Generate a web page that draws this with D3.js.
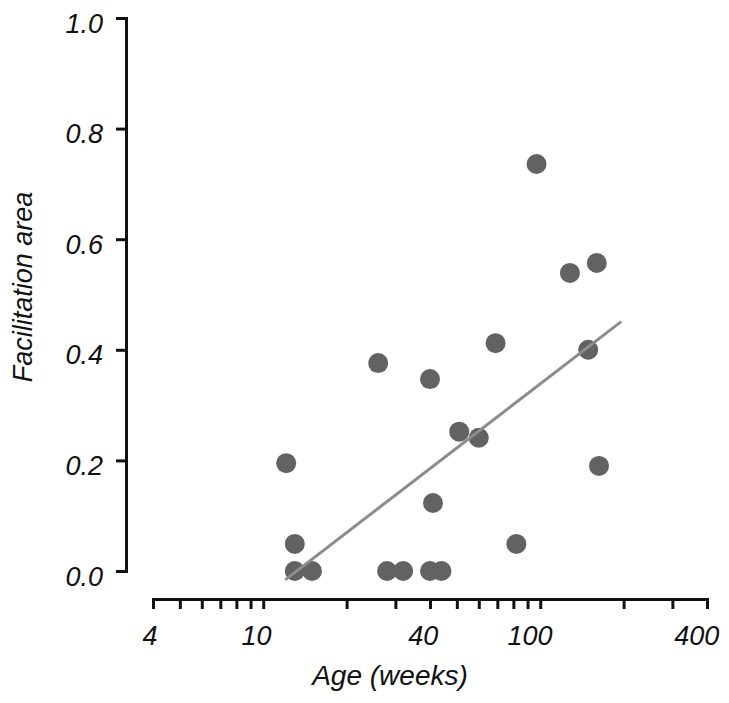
<!DOCTYPE html>
<html lang="en">

<head>
  <meta charset="UTF-8">
  <title></title>
  <script src="https://d3js.org/d3.v7.min.js"></script>
  <style>
      body {
          margin: 0;
          background: #fff;
      }

      text {
          font-family: "Liberation Sans", Arial, sans-serif;
          font-style: italic;
          fill: #111;
      }

      .axis path,
      .axis line {
          stroke: #111;
          stroke-width: 3px;
      }
  </style>
</head>

<body>
<div class="canvas"></div>
<script>
  // age (weeks) and facilitation area
  const ages = [12.1, 13, 13, 15, 26, 28, 32, 40, 40, 41, 44, 51, 60, 69, 82, 97, 128, 160, 149, 163];
  const areas = [0.195, 0.049, 0, 0, 0.376, 0, 0, 0.347, 0, 0.123, 0, 0.252, 0.241, 0.412, 0.049, 0.736, 0.539, 0.557, 0.400, 0.190];

  // regression line end points
  const fitAges = [12, 196];
  const fitAreas = [-0.016, 0.451];

  const xTicks = [4, 5, 6, 7, 8, 9, 10, 20, 30, 40, 50, 60, 70, 80, 90, 100, 200, 300, 400];
  const xLabels = [4, 10, 40, 100, 400];
  const yTicks = [0, 0.2, 0.4, 0.6, 0.8, 1.0];

  const svg = d3.select('.canvas')
    .append('svg')
    .attr('width', 729)
    .attr('height', 703)

  const x = d3.scaleLog().domain([4, 400]).range([153, 707])
  const y = d3.scaleLinear().domain([0, 1]).range([571, 18])

  // y axis
  const yAxis = svg.append('g')
    .attr('class', 'axis')
    .attr('transform', 'translate(126,0)')
    .call(d3.axisLeft(y).tickValues(yTicks).tickSize(10).tickSizeOuter(0).tickPadding(13)
      .tickFormat(d3.format('.1f')))
  yAxis.selectAll('text')
    .attr('dy', '0.52em')
    .style('font-size', '27px')

  // x axis (log)
  const xAxis = svg.append('g')
    .attr('class', 'axis')
    .attr('transform', 'translate(0,599)')
    .call(d3.axisBottom(x).tickValues(xTicks).tickSize(10).tickSizeOuter(0).tickPadding(17)
      .tickFormat(d => xLabels.includes(d) ? d : ''))
  xAxis.selectAll('text')
    .attr('dx', d => -String(d).length * 3.6)
    .style('font-size', '27px')

  svg.selectAll('.axis .domain').attr('stroke-linecap', 'square')

  // titles
  svg.append('text')
    .attr('x', 390)
    .attr('y', 685)
    .attr('text-anchor', 'middle')
    .style('font-size', '28px')
    .text('Age (weeks)')

  svg.append('text')
    .attr('transform', 'translate(32,287) rotate(-90)')
    .attr('text-anchor', 'middle')
    .style('font-size', '27px')
    .text('Facilitation area')

  // dots
  svg.append('g')
    .selectAll('circle')
    .data(ages)
    .enter()
    .append('circle')
    .attr('cx', d => x(d))
    .attr('cy', (d, i) => y(areas[i]))
    .attr('r', 10)
    .attr('fill', '#626262')

  // fit line
  svg.append('path')
    .datum(fitAges)
    .attr('d', d3.line().x(d => x(d)).y((d, i) => y(fitAreas[i])))
    .attr('stroke', '#8c8c8c')
    .attr('stroke-width', 3)
    .attr('fill', 'none')
</script>
</body>

</html>
